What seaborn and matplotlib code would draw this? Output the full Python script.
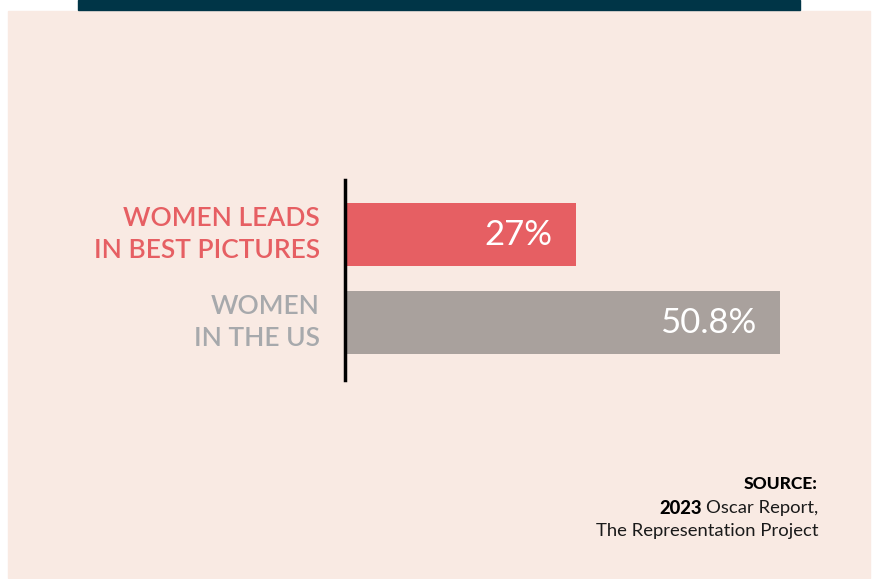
import matplotlib
matplotlib.use("Agg")
import matplotlib.pyplot as plt
import matplotlib.transforms as mtransforms
from matplotlib.patches import Rectangle
import pandas as pd
import seaborn as sns

# data
categories = ["WOMEN LEADS\nIN BEST PICTURES", "WOMEN\nIN THE US"]
shares = [27.0, 50.8]
value_labels = ["27%", "50.8%"]
bar_colors = ["#E65F63", "#A9A19D"]
label_colors = ["#E65F63", "#A7A9AC"]

PINK = "#F9EAE3"
NAVY = "#003547"

df = pd.DataFrame({"group": categories, "share": shares})

sns.set_theme(style="white")
plt.rcParams["font.family"] = ["Lato", "DejaVu Sans"]

W, H = 874, 579
fig = plt.figure(figsize=(W / 100, H / 100), dpi=100, facecolor="white")

# background panel + top navy strip (drawn under the axes)
fig.patches.append(Rectangle((8 / W, 1 - 578 / H), 862 / W, 567 / H,
                             transform=fig.transFigure, color=PINK, zorder=-5))
fig.patches.append(Rectangle((78 / W, 1 - 10 / H), 722 / W, 10 / H,
                             transform=fig.transFigure, color=NAVY, zorder=-5))

# axes: left edge at x=345px, 8.56 px per percent point
ax = fig.add_axes([345 / W, 1 - 380 / H, 60 * 8.56 / W, 200 / H])
ax.set_facecolor("none")

sns.barplot(data=df, y="group", x="share", hue="group", palette=bar_colors,
            orient="h", width=0.716, legend=False, ax=ax, saturation=1,
            linewidth=0)

ax.set_xlim(0, 60)
ax.set_ylim(1.653, -0.62)
ax.set_xlabel("")
ax.set_ylabel("")
ax.set_xticks([])
ax.set_yticks([])
for s in ["top", "right", "bottom"]:
    ax.spines[s].set_visible(False)
ax.spines["left"].set_color("black")
ax.spines["left"].set_linewidth(2.5)

# category labels to the left of the axis line
trans = mtransforms.blended_transform_factory(ax.transAxes, ax.transData)
for i, (lab, col) in enumerate(zip(categories, label_colors)):
    ax.text(-25 / (60 * 8.56), i, lab, transform=trans, ha="right", va="center",
            multialignment="right", color=col, fontsize=19, linespacing=1.38,
            fontweight="semibold")

# value labels inside the bars
for i, (v, lab) in enumerate(zip(shares, value_labels)):
    ax.annotate(lab, xy=(v, i), xytext=(-17, 0), textcoords="offset points",
                ha="right", va="center", color="white", fontsize=25)

# source note
x_src = 818 / W
fig.text(x_src, 1 - 484 / H, "SOURCE:", ha="right", va="center",
         fontsize=12.5, fontweight="black", color="black")
t2 = fig.text(x_src, 1 - 508 / H, "Oscar Report,", ha="right", va="center",
              fontsize=13.3, color="#1a1a1a")
plt.annotate("2023", xy=(0, 0.5), xycoords=t2, xytext=(-2.5, 0),
             textcoords="offset points", ha="right", va="center",
             fontsize=13.3, fontweight="black", color="black",
             annotation_clip=False)
fig.text(x_src, 1 - 531 / H, "The Representation Project", ha="right",
         va="center", fontsize=13.3, color="#1a1a1a")

fig.savefig("out.png", dpi=100, facecolor="white")
